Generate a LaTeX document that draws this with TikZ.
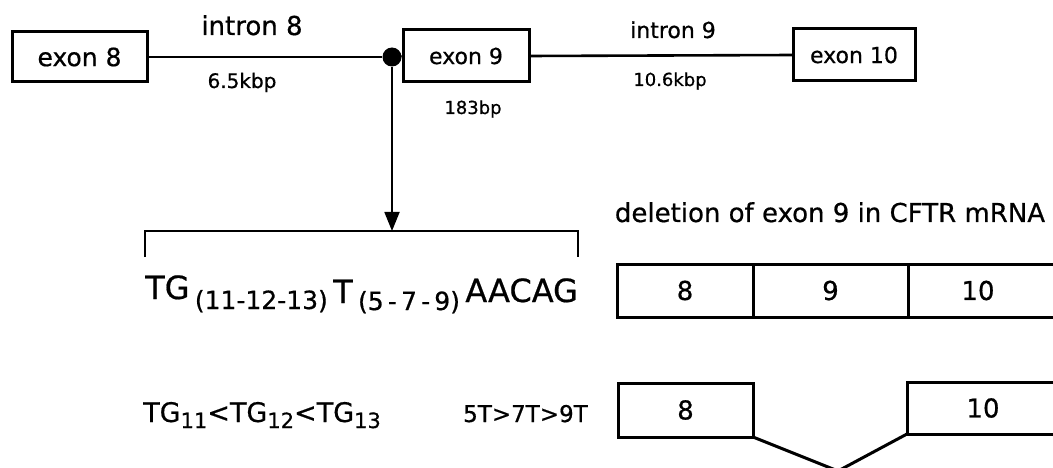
\documentclass[tikz,border=0pt]{standalone}
\usepackage{fontspec}
\setmainfont[FakeBold=0.6]{DejaVu Sans}
\usetikzlibrary{arrows.meta}
\newcommand\myfs[1]{\fontsize{#1}{#1}\selectfont}
\begin{document}
\begin{tikzpicture}[x=1pt,y=-1pt,
  exonbox/.style={draw,line width=3pt,inner sep=0pt,outer sep=0pt,font=\myfs{22}},
  cellbox/.style={draw,line width=3pt,inner sep=0pt,outer sep=0pt,font=\myfs{26}},
  intronline/.style={line width=2.6pt},
  lbl/.style={inner sep=0pt,font=\myfs{26}},
  sm/.style={inner sep=0pt,font=\myfs{18}},
  thinline/.style={line width=1.8pt}
]
\useasboundingbox (0,0) rectangle (1053,468);
\clip (0,0) rectangle (1053,468);
% gene structure
\node[exonbox,minimum width=135pt,minimum height=50pt,font=\myfs{25}] (e8) at (79.5,57) {exon 8};
\node[exonbox,minimum width=126pt,minimum height=52pt] (e9) at (466,56) {exon 9};
\node[exonbox,minimum width=122pt,minimum height=52pt] (e10) at (854,55) {exon 10};
\node[circle,fill,minimum size=19pt,inner sep=0pt] (dot) at (392,57) {};
\draw[intronline] (e8.east) -- (dot.west);
\draw[intronline] (dot.east) -- (e9.west);
\draw[intronline] (e9.east) -- (e10.west);
\node[lbl,anchor=base] (i8) at (252,35) {intron 8};
\node[sm,anchor=base,font=\myfs{20}] (k8) at (242,88) {6.5kbp};
\node[sm,anchor=base] (b9) at (473,114) {183bp};
\node[lbl,anchor=base,font=\myfs{22}] (i9) at (673,38) {intron 9};
\node[sm,anchor=base] (k9) at (670,86) {10.6kbp};
% arrow and bracket
\coordinate (brk) at (392,231);
\coordinate (bl) at (145,231);
\coordinate (br) at (578,231);
\draw[thinline,-{Triangle[length=19pt,width=15pt]}] (dot.south) -- (brk);
\draw[thinline] ([yshift=-26pt]bl) -- (bl) -- (br) -- ([yshift=-26pt]br);
% sequence
\node[lbl,anchor=base west,font=\myfs{32}] (seq) at (145,299)
  {TG\,\raisebox{-10pt}{\myfs{25}(11-12-13)}\,\raisebox{-4pt}{T}\,\raisebox{-11pt}{\myfs{25}(5\,-\,7\,-\,9)}\,\raisebox{-3pt}{AACAG}};
\node[lbl,anchor=base west,font=\myfs{27}] (ineq) at (143,422)
  {TG\raisebox{-6pt}{\myfs{21}11}<TG\raisebox{-6pt}{\myfs{21}12}<TG\raisebox{-6pt}{\myfs{21}13}};
\node[lbl,anchor=base west,font=\myfs{23}] (tt) at (463,422) {5T>7T>9T};
% mRNA
\node[lbl,anchor=base] (title) at (830,222) {deletion of exon 9 in CFTR mRNA};
\node[cellbox,minimum width=136pt,minimum height=53pt] (r8) at (685,290.5) {8};
\node[cellbox,minimum width=155pt,minimum height=53pt] (r9) at (830.5,290.5) {9};
\coordinate (rtop) at (1080,264);
\coordinate (rbot) at (1080,317);
\draw[line width=3pt] (r9.north east) -- (rtop);
\draw[line width=3pt] (r9.south east) -- (rbot);
\node[lbl] (r10) at (978,290.5) {10};
\node[cellbox,minimum width=135pt,minimum height=54pt] (s8) at (685.5,410) {8};
\coordinate (s10sw) at (907,434);
\coordinate (s10ne) at (1080,382);
\draw[line width=3pt] (s10sw) rectangle (s10ne);
\node[lbl] (s10) at (983,408) {10};
\coordinate (vtip) at (838,471);
\draw[line width=3pt,line join=miter] (s8.south east) -- (vtip) -- (s10sw);
\end{tikzpicture}
\end{document}
